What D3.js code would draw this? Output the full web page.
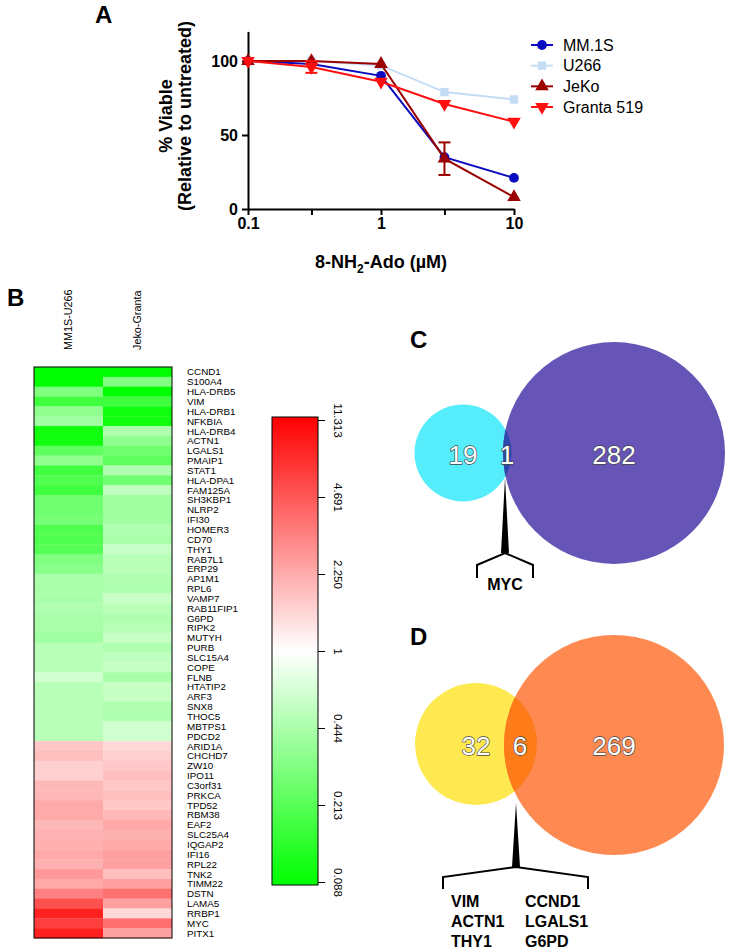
<!DOCTYPE html>
<html><head><meta charset="utf-8">
<script src="https://cdn.jsdelivr.net/npm/d3@7"></script>
<style>
body{margin:0;background:#fff}
svg{display:block}
text{font-family:"Liberation Sans",Arial,Helvetica,sans-serif}
</style>
</head><body>
<svg id="chart" width="729" height="952"></svg>
<script>
// ---------- Panel A data ----------
const doses = [0.1, 0.3, 1, 3, 10];
const seriesNames = ["MM.1S", "U266", "JeKo", "Granta 519"];
const mm1s   = [100, 98, 90, 35, 21];
const u266   = [100, 100, 97, 79, 74];
const jeko   = [100, 100, 98, 34, 8];
const granta = [100, 96, 86, 71, 59];
const mm1sErr   = [1, 1, 1, 2, 2];
const u266Err   = [0, 0, 0, 1, 1];
const jekoErr   = [1, 1, 1, 11, 1];
const grantaErr = [1, 4, 1, 1, 1];
const xTickLabels = ["0.1", "", "1", "", "10"];
const yTickValues = [0, 50, 100];

// ---------- Panel B data ----------
const heatColumns = ["MM1S-U266", "Jeko-Granta"];
const genes = ["CCND1","S100A4","HLA-DRB5","VIM","HLA-DRB1","NFKBIA","HLA-DRB4","ACTN1","LGALS1","PMAIP1",
  "STAT1","HLA-DPA1","FAM125A","SH3KBP1","NLRP2","IFI30","HOMER3","CD70","THY1","RAB7L1",
  "ERP29","AP1M1","RPL6","VAMP7","RAB11FIP1","G6PD","RIPK2","MUTYH","PURB","SLC15A4",
  "COPE","FLNB","HTATIP2","ARF3","SNX8","THOC5","MBTPS1","PDCD2",
  "ARID1A","CHCHD7","ZW10","IPO11","C3orf31","PRKCA","TPD52","RBM38","EAF2","SLC25A4",
  "IQGAP2","IFI16","RPL22","TNK2","TIMM22","DSTN","LAMA5","RRBP1","MYC","PITX1"];
// log2 fold change
const log2MM1S_U266 = [-3.5,-3.5,-1.75,-2.63,-1.53,-1.3,-3.3,-3.3,-2.18,-1.53,
  -2.63,-2.4,-2.63,-1.96,-1.96,-1.85,-2.4,-2.4,-2.33,-1.75,
  -1.63,-1.18,-1.18,-1.18,-1.09,-1.18,-1.18,-1.3,-0.98,-0.98,
  -0.98,-0.64,-0.98,-0.98,-0.98,-0.98,-0.98,-0.98,
  0.77,0.88,0.64,0.64,0.98,0.98,1.18,1.18,0.98,1.09,
  1.09,1.18,1.09,1.4,1.18,1.75,2.4,3.06,2.63,3.06];
const log2Jeko_Granta = [-3.5,-1.75,-3.5,-2.63,-3.3,-3.3,-1.09,-1.53,-1.96,-2.18,
  -1.09,-1.96,-0.88,-1.3,-1.3,-1.3,-1.09,-1.18,-0.77,-0.98,
  -0.98,-1.09,-1.09,-0.77,-0.98,-1.09,-0.98,-0.77,-1.09,-0.88,
  -0.77,-1.18,-0.77,-0.77,-1.09,-1.09,-0.64,-0.64,
  0.53,0.64,0.77,0.88,0.77,0.88,0.77,0.98,1.18,1.09,
  1.18,1.3,1.3,0.88,1.3,1.96,1.3,0.53,1.96,1.3];
const colorbarLabels = ["11.313","4.691","2.250","1","0.444","0.213","0.088"];

// ---------- Panel C / D data ----------
const vennCCounts = [19, 1, 282];
const vennCShared = ["MYC"];
const vennDCounts = [32, 6, 269];
const vennDSharedLeft = ["VIM","ACTN1","THY1"];
const vennDSharedRight = ["CCND1","LGALS1","G6PD"];

const svg = d3.select("#chart");

// =============== Panel A ===============
const x = d3.scaleLog().domain([0.1, 10]).range([248, 514]);
const y = d3.scaleLinear().domain([0, 120]).range([209, 31.4]);

svg.append("text").attr("x", 95).attr("y", 23).attr("font-size", 24).attr("font-weight", "bold").text("A");

const gA = svg.append("g");
const yAxis = gA.append("g").attr("transform", "translate(248,0)")
  .call(d3.axisLeft(y).tickValues(yTickValues).tickSize(6).tickPadding(4).tickSizeOuter(0));
const xAxis = gA.append("g").attr("transform", "translate(0,209)")
  .call(d3.axisBottom(x).tickValues(doses).tickFormat((d, i) => xTickLabels[i]).tickSize(6).tickPadding(3).tickSizeOuter(0));
[yAxis, xAxis].forEach(a => {
  a.select(".domain").attr("stroke", "#000").attr("stroke-width", 2);
  a.selectAll(".tick line").attr("stroke", "#000").attr("stroke-width", 2);
  a.selectAll(".tick text").attr("font-size", 16).attr("font-weight", "bold").attr("fill", "#000")
    .attr("font-family", "'Liberation Sans',Arial,sans-serif");
});

// axis titles
svg.append("text").attr("transform", "translate(172,116) rotate(-90)").attr("text-anchor", "middle")
  .attr("font-size", 18).attr("font-weight", "bold").text("% Viable");
svg.append("text").attr("transform", "translate(191,116) rotate(-90)").attr("text-anchor", "middle")
  .attr("font-size", 18).attr("font-weight", "bold").text("(Relative to untreated)");
const xt = svg.append("text").attr("x", 381).attr("y", 268).attr("text-anchor", "middle")
  .attr("font-size", 18).attr("font-weight", "bold");
xt.append("tspan").text("8-NH");
xt.append("tspan").attr("font-size", 12).attr("dy", 5).text("2");
xt.append("tspan").attr("dy", -5).text("-Ado (\u00B5M)");

const series = [
  {name: seriesNames[1], vals: u266, err: u266Err, color: "#c5dcf5", sym: d3.symbolSquare, rot: 0, size: 70},
  {name: seriesNames[0], vals: mm1s, err: mm1sErr, color: "#0a0abf", sym: d3.symbolCircle, rot: 0, size: 75},
  {name: seriesNames[2], vals: jeko, err: jekoErr, color: "#9a0000", sym: d3.symbolTriangle, rot: 0, size: 80},
  {name: seriesNames[3], vals: granta, err: grantaErr, color: "#ff1010", sym: d3.symbolTriangle, rot: 180, size: 80}
];
const line = d3.line().x(d => x(d[0])).y(d => y(d[1]));
series.forEach(s => {
  const pts = doses.map((d, i) => [d, s.vals[i], s.err[i]]);
  const g = gA.append("g");
  g.append("path").datum(pts).attr("d", line).attr("fill", "none").attr("stroke", s.color).attr("stroke-width", 2);
  pts.filter(p => p[2] > 0).forEach(p => {
    const cx = x(p[0]), y1 = y(p[1] + p[2]), y2 = y(p[1] - p[2]);
    g.append("line").attr("x1", cx).attr("x2", cx).attr("y1", y1).attr("y2", y2).attr("stroke", s.color).attr("stroke-width", 2);
    if (p[2] > 2) {
      [y1, y2].forEach(yy => g.append("line").attr("x1", cx - 6).attr("x2", cx + 6).attr("y1", yy).attr("y2", yy)
        .attr("stroke", s.color).attr("stroke-width", 2));
    }
  });
  g.selectAll("path.m").data(pts).join("path").attr("class", "m")
    .attr("d", d3.symbol().type(s.sym).size(s.size))
    .attr("transform", d => `translate(${x(d[0])},${y(d[1])}) rotate(${s.rot})`)
    .attr("fill", s.color);
});

// legend
const legendOrder = [1, 0, 2, 3];
const legY = d3.scalePoint().domain(seriesNames).range([45, 107]);
legendOrder.forEach(idx => {
  const s = series[idx];
  const ly = legY(s.name);
  svg.append("line").attr("x1", 531).attr("x2", 553).attr("y1", ly).attr("y2", ly).attr("stroke", s.color).attr("stroke-width", 2);
  svg.append("path").attr("d", d3.symbol().type(s.sym).size(s.size)()).attr("transform", `translate(542,${ly}) rotate(${s.rot})`).attr("fill", s.color);
  svg.append("text").attr("x", 563).attr("y", ly).attr("dy", "0.36em").attr("font-size", 16).text(s.name);
});

// =============== Panel B ===============
svg.append("text").attr("x", 7).attr("y", 306).attr("font-size", 24).attr("font-weight", "bold").text("B");

const hx = d3.scaleBand().domain(heatColumns).range([34, 172]);
const hy = d3.scaleBand().domain(genes).range([367, 938]);
const color = d3.scaleLinear().domain([-3.5, 0, 3.5]).range(["#00ff00", "#ffffff", "#ff0000"]).clamp(true);
const cells = [];
genes.forEach((g, i) => {
  cells.push({col: heatColumns[0], gene: g, v: log2MM1S_U266[i]});
  cells.push({col: heatColumns[1], gene: g, v: log2Jeko_Granta[i]});
});
svg.append("g").selectAll("rect").data(cells).join("rect")
  .attr("x", d => hx(d.col)).attr("y", d => hy(d.gene))
  .attr("width", hx.bandwidth()).attr("height", hy.bandwidth() + 0.3)
  .attr("fill", d => color(d.v));
svg.append("rect").attr("x", 34).attr("y", 367).attr("width", 138).attr("height", 571)
  .attr("fill", "none").attr("stroke", "#000").attr("stroke-width", 1);

svg.append("g").selectAll("text").data(genes).join("text")
  .attr("x", 187).attr("y", d => hy(d) + hy.bandwidth() / 2).attr("dy", "0.36em")
  .attr("font-size", 9.8).text(d => d);

svg.append("g").selectAll("text").data(heatColumns).join("text")
  .attr("transform", d => `translate(${hx(d) + hx.bandwidth() / 2},350) rotate(-90)`)
  .attr("dy", "0.36em").attr("font-size", 10.8).text(d => d);

// colorbar
const defs = svg.append("defs");
const grad = defs.append("linearGradient").attr("id", "cbgrad").attr("x1", 0).attr("x2", 0).attr("y1", 0).attr("y2", 1);
d3.range(0, 1.0001, 0.05).forEach(t => {
  grad.append("stop").attr("offset", t).attr("stop-color", color(3.5 - 7 * t));
});
svg.append("rect").attr("x", 272).attr("y", 417).attr("width", 46).attr("height", 468)
  .attr("fill", "url(#cbgrad)").attr("stroke", "#000").attr("stroke-width", 1);
const cbScale = d3.scalePoint().domain(colorbarLabels).range([420, 882]);
const cbAxis = svg.append("g").attr("transform", "translate(318,0)")
  .call(d3.axisRight(cbScale).tickSize(7).tickSizeOuter(0));
cbAxis.select(".domain").remove();
cbAxis.selectAll(".tick line").attr("stroke", "#000");
cbAxis.selectAll(".tick text")
  .attr("x", null).attr("dy", null)
  .attr("transform", "translate(16,0) rotate(90)")
  .attr("text-anchor", "middle").attr("font-size", 11.5).attr("fill", "#000")
  .attr("font-family", "'Liberation Sans',Arial,sans-serif");

// =============== Panels C & D ===============
function numText(g, tx, ty, val, size) {
  g.append("text").attr("x", tx).attr("y", ty).attr("dy", "0.36em").attr("text-anchor", "middle")
    .attr("font-size", size).attr("fill", "#fff").attr("stroke", "#444").attr("stroke-width", 1.3)
    .attr("paint-order", "stroke").attr("stroke-linejoin", "round")
    .text(val);
}
function venn(cfg) {
  const g = svg.append("g");
  g.append("text").attr("x", cfg.labelX).attr("y", cfg.labelY).attr("font-size", 24).attr("font-weight", "bold").text(cfg.label);
  g.append("circle").attr("cx", cfg.a.cx).attr("cy", cfg.a.cy).attr("r", cfg.a.r).attr("fill", cfg.a.fill);
  g.append("circle").attr("cx", cfg.b.cx).attr("cy", cfg.b.cy).attr("r", cfg.b.r).attr("fill", cfg.b.fill);
  defs.append("clipPath").attr("id", cfg.id).append("circle").attr("cx", cfg.a.cx).attr("cy", cfg.a.cy).attr("r", cfg.a.r);
  g.append("circle").attr("cx", cfg.b.cx).attr("cy", cfg.b.cy).attr("r", cfg.b.r).attr("fill", cfg.overlap)
    .attr("clip-path", `url(#${cfg.id})`);
  numText(g, cfg.a.cx, cfg.numY, cfg.counts[0], 26);
  numText(g, cfg.midX, cfg.numY, cfg.counts[1], 26);
  numText(g, cfg.b.cx, cfg.numY, cfg.counts[2], 26);
  // pointer wedge
  const px = cfg.ptr.x;
  g.append("path").attr("d", `M${px},${cfg.ptr.top}L${px - 4},${cfg.ptr.bottom}L${px + 4},${cfg.ptr.bottom}Z`).attr("fill", "#000");
  g.append("path").attr("d", `M${cfg.br.left},${cfg.br.end}L${cfg.br.left},${cfg.br.mid}L${px},${cfg.ptr.bottom}L${cfg.br.right},${cfg.br.mid}L${cfg.br.right},${cfg.br.end}`)
    .attr("fill", "none").attr("stroke", "#000").attr("stroke-width", 2);
  return g;
}

const gC = venn({
  id: "clipC", label: "C", labelX: 410, labelY: 348,
  a: {cx: 463, cy: 453, r: 48.5, fill: "#55edfb"},
  b: {cx: 614, cy: 453, r: 111, fill: "#6655b6"},
  overlap: "#2e47ad", counts: vennCCounts, midX: 507, numY: 455,
  ptr: {x: 505, top: 478, bottom: 553}, br: {left: 477, right: 533, mid: 565, end: 578}
});
gC.selectAll("text.g").data(vennCShared).join("text").attr("class", "g")
  .attr("x", 505).attr("y", 590).attr("text-anchor", "middle").attr("font-size", 16).attr("font-weight", "bold").text(d => d);

const gD = venn({
  id: "clipD", label: "D", labelX: 410, labelY: 645,
  a: {cx: 476, cy: 744, r: 61, fill: "#feea50"},
  b: {cx: 614, cy: 745, r: 110, fill: "#fe8a52"},
  overlap: "#fd7b18", counts: vennDCounts, midX: 520, numY: 746,
  ptr: {x: 516, top: 803, bottom: 867}, br: {left: 443, right: 588, mid: 877, end: 889}
});
const dRow = d3.scalePoint().domain([0, 1, 2]).range([907, 947]);
gD.selectAll("text.l").data(vennDSharedLeft).join("text").attr("class", "l")
  .attr("x", 451).attr("y", (d, i) => dRow(i)).attr("font-size", 16).attr("font-weight", "bold").text(d => d);
gD.selectAll("text.r").data(vennDSharedRight).join("text").attr("class", "r")
  .attr("x", 525).attr("y", (d, i) => dRow(i)).attr("font-size", 16).attr("font-weight", "bold").text(d => d);
</script>
</body></html>
